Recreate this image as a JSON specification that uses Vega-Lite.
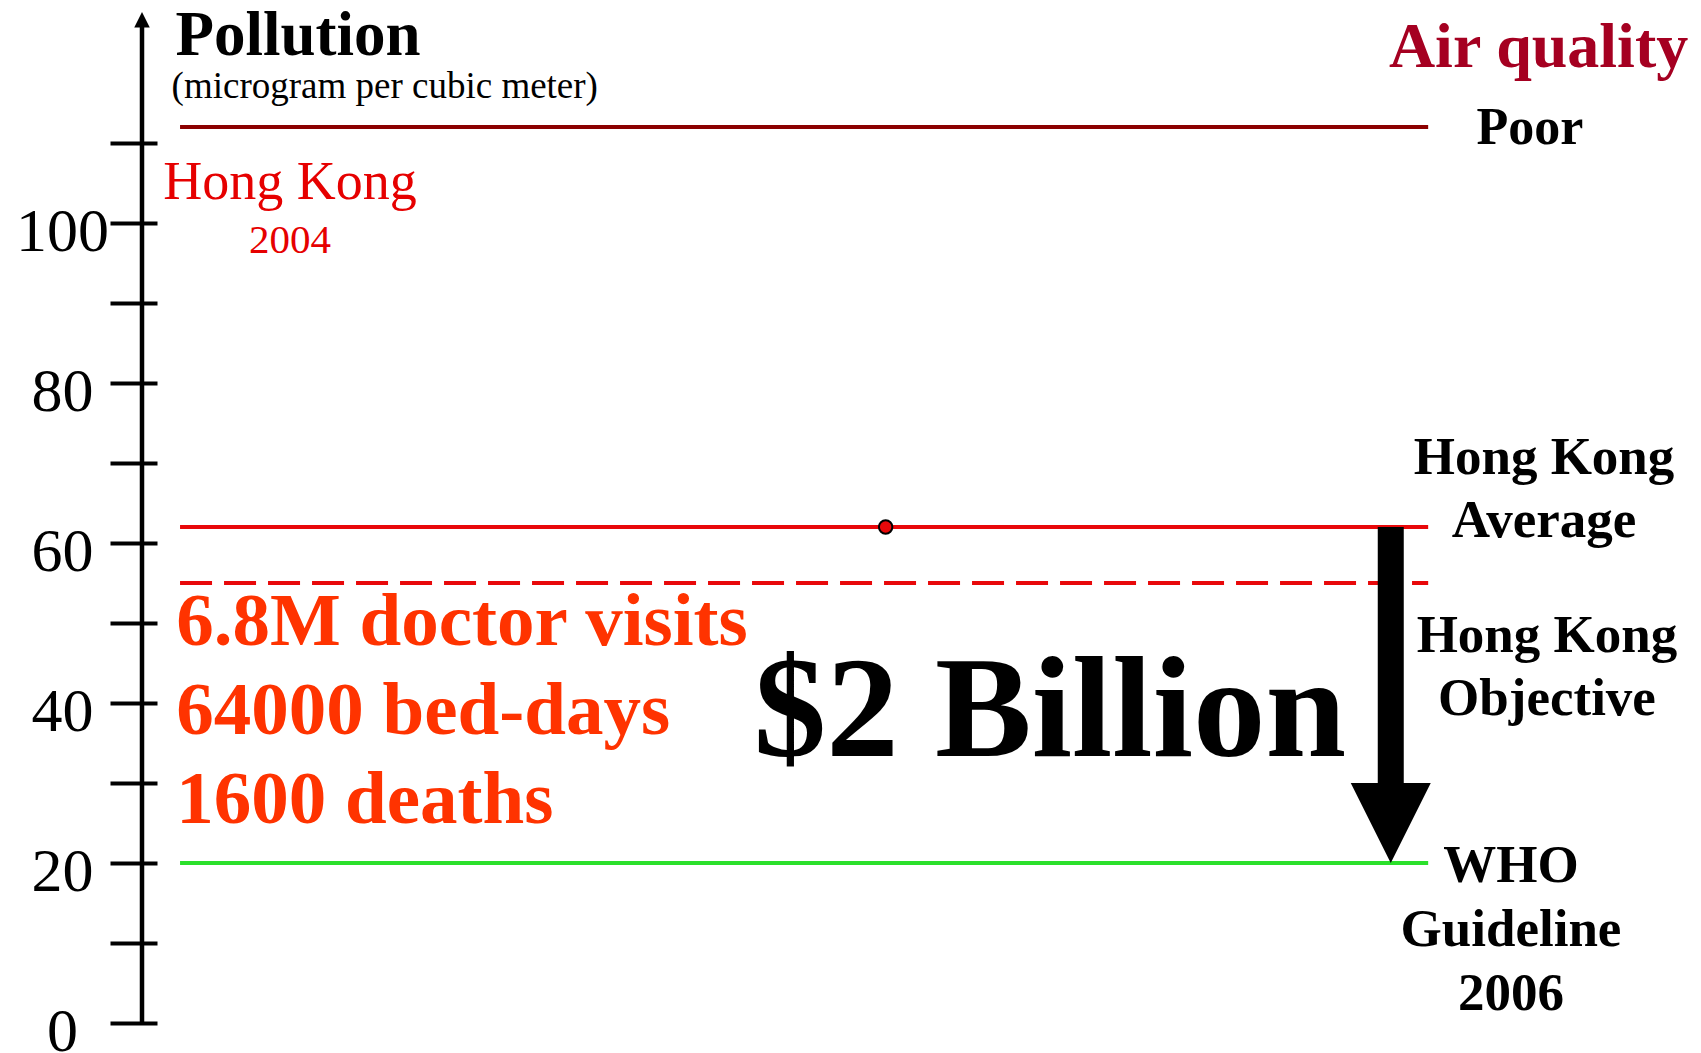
{
  "$schema": "https://vega.github.io/schema/vega-lite/v6.json",
  "width": 1559,
  "height": 1008,
  "autosize": {"type": "none"},
  "padding": {"left": 142, "top": 15, "right": 0, "bottom": 30},
  "background": "white",
  "config": {"view": {"stroke": null}, "font": "Liberation Serif"},
  "datasets": {
    "lines": [
      {"line": "Poor", "value": 112, "label": "Poor"},
      {"line": "Hong Kong Average", "value": 62, "label": "Hong Kong\nAverage"},
      {"line": "Hong Kong Objective", "value": 55, "label": "Hong Kong\nObjective"},
      {"line": "WHO Guideline 2006", "value": 20, "label": "WHO\nGuideline\n2006"}
    ],
    "notes": [
      {"id": "title", "text": "Pollution"},
      {"id": "unit", "text": "(microgram per cubic meter)"},
      {"id": "airq", "text": "Air quality"},
      {"id": "hk", "text": "Hong Kong"},
      {"id": "year", "text": "2004"},
      {"id": "health", "text": "6.8M doctor visits\n64000 bed-days\n1600 deaths"},
      {"id": "cost", "text": "$2 Billion"},
      {"id": "axis", "text": ""}
    ]
  },
  "layer": [
    {
      "data": {"name": "lines"},
      "mark": {"type": "rule", "strokeWidth": 4},
      "encoding": {
        "y": {
          "field": "value",
          "type": "quantitative",
          "scale": {"domain": [0, 126], "nice": false, "zero": false},
          "axis": {
            "values": [0, 10, 20, 30, 40, 50, 60, 70, 80, 90, 100, 110],
            "labelExpr": "datum.value % 20 == 0 ? datum.label : ''",
            "domain": false,
            "grid": false,
            "title": null,
            "offset": -15,
            "tickSize": 47,
            "tickWidth": 4,
            "tickColor": "black",
            "labelFont": "Liberation Serif",
            "labelFontSize": 62,
            "labelColor": "black",
            "labelAlign": "center",
            "labelBaseline": "alphabetic",
            "labelOffset": 27,
            "labelPadding": 48,
            "labelOverlap": false,
            "labelBound": false,
            "labelFlush": false
          }
        },
        "x": {"datum": 2.44, "type": "quantitative", "scale": {"domain": [0, 100], "nice": false, "zero": false}, "axis": null},
        "x2": {"datum": 82.5},
        "color": {
          "field": "line",
          "type": "nominal",
          "scale": {
            "domain": ["Poor", "Hong Kong Average", "Hong Kong Objective", "WHO Guideline 2006"],
            "range": ["#8B0000", "#E8080A", "#E8080A", "#2BE02B"]
          },
          "legend": null
        },
        "strokeDash": {
          "field": "line",
          "type": "nominal",
          "scale": {
            "domain": ["Poor", "Hong Kong Average", "Hong Kong Objective", "WHO Guideline 2006"],
            "range": [[1, 0], [1, 0], [32, 12], [1, 0]]
          },
          "legend": null
        }
      }
    },
    {
      "data": {"name": "lines"},
      "transform": [{"filter": "datum.line == 'Hong Kong Average'"}],
      "mark": {"type": "point", "filled": true, "fill": "#E8080A", "stroke": "black", "strokeWidth": 2, "size": 180, "opacity": 1},
      "encoding": {
        "x": {"datum": 47.7, "type": "quantitative", "axis": null},
        "y": {"field": "value", "type": "quantitative"}
      }
    },
    {
      "data": {"name": "lines"},
      "transform": [{"filter": "datum.line == 'Hong Kong Average'"}],
      "mark": {"type": "rule", "strokeWidth": 26, "color": "black", "strokeCap": "butt"},
      "encoding": {
        "x": {"datum": 80.1, "type": "quantitative", "axis": null},
        "y": {"field": "value", "type": "quantitative"},
        "y2": {"datum": 29.5}
      }
    },
    {
      "data": {"name": "lines"},
      "transform": [{"filter": "datum.line == 'WHO Guideline 2006'"}],
      "mark": {"type": "point", "shape": "M-1,-1L1,-1L0,1Z", "filled": true, "color": "black", "size": 6400, "opacity": 1},
      "encoding": {
        "x": {"datum": 80.1, "type": "quantitative", "axis": null},
        "y": {"datum": 25, "type": "quantitative"}
      }
    },
    {
      "data": {"name": "lines"},
      "transform": [{"filter": "datum.line == 'Poor'"}],
      "mark": {"type": "text", "fontSize": 52, "fontWeight": "bold", "color": "black", "align": "center", "baseline": "alphabetic", "dy": 17},
      "encoding": {
        "x": {"datum": 89.03, "type": "quantitative", "axis": null},
        "y": {"field": "value", "type": "quantitative"},
        "text": {"field": "label"}
      }
    },
    {
      "data": {"name": "lines"},
      "transform": [{"filter": "datum.line == 'Hong Kong Average'"}],
      "mark": {"type": "text", "fontSize": 53, "fontWeight": "bold", "color": "black", "align": "center", "baseline": "alphabetic", "dy": -53, "lineBreak": "\n", "lineHeight": 63},
      "encoding": {
        "x": {"datum": 89.93, "type": "quantitative", "axis": null},
        "y": {"field": "value", "type": "quantitative"},
        "text": {"field": "label"}
      }
    },
    {
      "data": {"name": "lines"},
      "transform": [{"filter": "datum.line == 'Hong Kong Objective'"}],
      "mark": {"type": "text", "fontSize": 53, "fontWeight": "bold", "color": "black", "align": "center", "baseline": "alphabetic", "dy": 69, "lineBreak": "\n", "lineHeight": 63},
      "encoding": {
        "x": {"datum": 90.12, "type": "quantitative", "axis": null},
        "y": {"field": "value", "type": "quantitative"},
        "text": {"field": "label"}
      }
    },
    {
      "data": {"name": "lines"},
      "transform": [{"filter": "datum.line == 'WHO Guideline 2006'"}],
      "mark": {"type": "text", "fontSize": 53, "fontWeight": "bold", "color": "black", "align": "center", "baseline": "alphabetic", "dy": 19, "lineBreak": "\n", "lineHeight": 64},
      "encoding": {
        "x": {"datum": 87.81, "type": "quantitative", "axis": null},
        "y": {"field": "value", "type": "quantitative"},
        "text": {"field": "label"}
      }
    },
    {
      "data": {"name": "notes"},
      "transform": [{"filter": "datum.id == 'axis'"}],
      "mark": {"type": "rule", "strokeWidth": 4.5, "color": "black", "strokeCap": "butt"},
      "encoding": {
        "x": {"datum": 0, "type": "quantitative", "axis": null},
        "y": {"datum": 0, "type": "quantitative"},
        "y2": {"datum": 124.5}
      }
    },
    {
      "data": {"name": "notes"},
      "transform": [{"filter": "datum.id == 'axis'"}],
      "mark": {"type": "point", "shape": "M0,-1L1,1L-1,1Z", "filled": true, "color": "black", "size": 240, "opacity": 1},
      "encoding": {
        "x": {"datum": 0, "type": "quantitative", "axis": null},
        "y": {"datum": 125.4, "type": "quantitative"}
      }
    },
    {
      "data": {"name": "notes"},
      "transform": [{"filter": "datum.id == 'title'"}],
      "mark": {"type": "text", "fontSize": 63, "fontWeight": "bold", "color": "black", "align": "left", "baseline": "alphabetic"},
      "encoding": {
        "x": {"datum": 2.15, "type": "quantitative", "axis": null},
        "y": {"datum": 121.0, "type": "quantitative"},
        "text": {"field": "text"}
      }
    },
    {
      "data": {"name": "notes"},
      "transform": [{"filter": "datum.id == 'unit'"}],
      "mark": {"type": "text", "fontSize": 37, "color": "black", "align": "left", "baseline": "alphabetic"},
      "encoding": {
        "x": {"datum": 1.9, "type": "quantitative", "axis": null},
        "y": {"datum": 115.6, "type": "quantitative"},
        "text": {"field": "text"}
      }
    },
    {
      "data": {"name": "notes"},
      "transform": [{"filter": "datum.id == 'airq'"}],
      "mark": {"type": "text", "fontSize": 64, "fontWeight": "bold", "color": "#A50021", "align": "center", "baseline": "alphabetic"},
      "encoding": {
        "x": {"datum": 89.58, "type": "quantitative", "axis": null},
        "y": {"datum": 119.54, "type": "quantitative"},
        "text": {"field": "text"}
      }
    },
    {
      "data": {"name": "notes"},
      "transform": [{"filter": "datum.id == 'hk'"}],
      "mark": {"type": "text", "fontSize": 54, "color": "#E60000", "align": "center", "baseline": "alphabetic"},
      "encoding": {
        "x": {"datum": 9.49, "type": "quantitative", "axis": null},
        "y": {"datum": 103, "type": "quantitative"},
        "text": {"field": "text"}
      }
    },
    {
      "data": {"name": "notes"},
      "transform": [{"filter": "datum.id == 'year'"}],
      "mark": {"type": "text", "fontSize": 41, "color": "#E60000", "align": "center", "baseline": "alphabetic"},
      "encoding": {
        "x": {"datum": 9.49, "type": "quantitative", "axis": null},
        "y": {"datum": 96.29, "type": "quantitative"},
        "text": {"field": "text"}
      }
    },
    {
      "data": {"name": "notes"},
      "transform": [{"filter": "datum.id == 'health'"}],
      "mark": {"type": "text", "fontSize": 75, "fontWeight": "bold", "color": "#FF3300", "align": "left", "baseline": "alphabetic", "lineBreak": "\n", "lineHeight": 89},
      "encoding": {
        "x": {"datum": 2.2, "type": "quantitative", "axis": null},
        "y": {"datum": 47.25, "type": "quantitative"},
        "text": {"field": "text"}
      }
    },
    {
      "data": {"name": "notes"},
      "transform": [{"filter": "datum.id == 'cost'"}],
      "mark": {"type": "text", "fontSize": 145, "fontWeight": "bold", "color": "black", "align": "center", "baseline": "alphabetic"},
      "encoding": {
        "x": {"datum": 58.24, "type": "quantitative", "axis": null},
        "y": {"datum": 33.375, "type": "quantitative"},
        "text": {"field": "text"}
      }
    }
  ]
}
